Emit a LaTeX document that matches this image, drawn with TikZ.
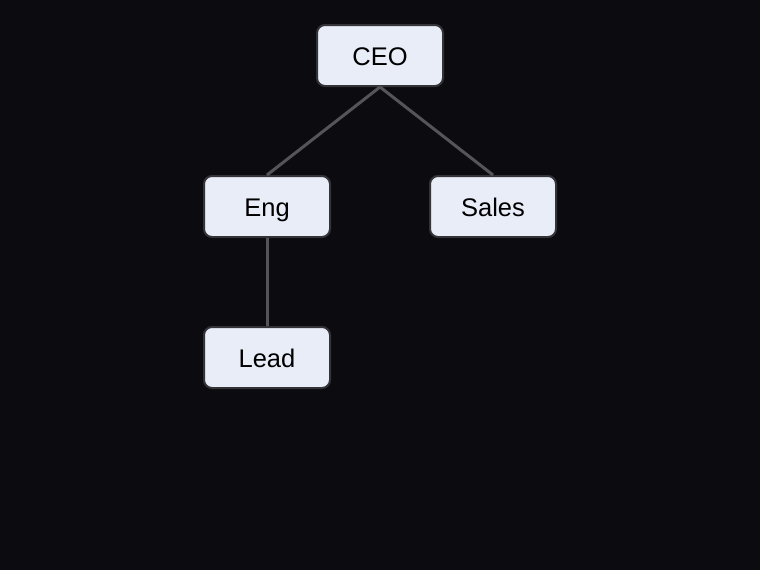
\documentclass[tikz,border=0pt]{standalone}
\usepackage{fontspec}
\setmainfont{Liberation Sans}
\definecolor{bgdark}{HTML}{0C0C10}
\definecolor{boxfill}{HTML}{E8EDF8}
\definecolor{boxline}{HTML}{333338}
\definecolor{edgegray}{HTML}{555558}

\begin{document}
\begin{tikzpicture}[x=1pt,y=1pt,line width=2pt,
  unit/.style={draw=boxline,fill=boxfill,rounded corners=8pt,
    minimum width=126pt,minimum height=61pt,inner sep=0pt,
    text height=20.3pt,text depth=1pt,
    font=\fontsize{25.5}{30}\selectfont,text=black},
  link/.style={draw=edgegray,line width=3pt}]
% ---------- background ----------
\fill[bgdark] (0,0) rectangle (760,-570);
\useasboundingbox (0,0) rectangle (760,-570);
% ---------- boxes ----------
\node[unit] (ceo)   at (380,-55.5)  {CEO};
\node[unit] (eng)   at (267,-206.5) {Eng};
\node[unit] (sales) at (493,-206.5) {Sales};
\node[unit] (lead)  at (267,-357.5) {Lead};
% ---------- links ----------
\draw[link] (ceo.south) -- (eng.north);
\draw[link] (ceo.south) -- (sales.north);
\draw[link] (eng.south) -- (lead.north);
\end{tikzpicture}
\end{document}
